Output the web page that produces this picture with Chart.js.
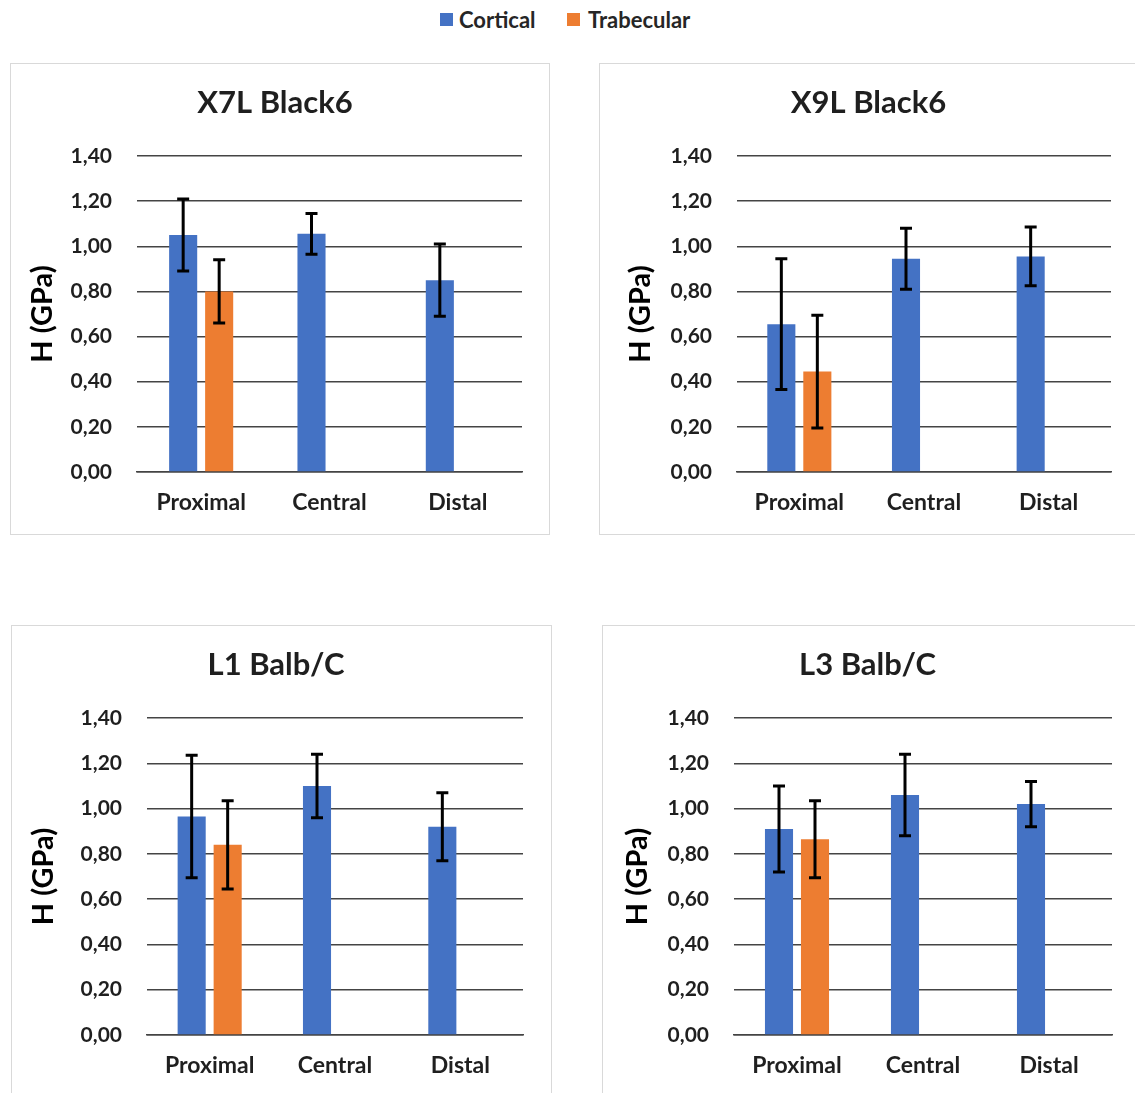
<!DOCTYPE html>
<html>
<head>
<meta charset="utf-8">
<script src="https://cdn.jsdelivr.net/npm/chart.js@4.4.1/dist/chart.umd.min.js"></script>
<style>
  html, body { margin: 0; padding: 0; background: #fff; overflow: hidden; }
  body { width: 1135px; height: 1093px; position: relative; font-family: Lato, sans-serif; }
  .frame { position: absolute; border: 1.5px solid #d9d9d9; box-sizing: border-box; }
  canvas { position: absolute; }
  .key { position: absolute; width: 13px; height: 13px; }
  .lab { position: absolute; font: 700 22px Lato, sans-serif; color: #262626; line-height: 24px; white-space: nowrap; }
</style>
</head>
<body>
<div class="key" style="left:440px;top:13px;background:#4472C4"></div>
<div class="lab" style="left:459px;top:8px">Cortical</div>
<div class="key" style="left:567px;top:13px;background:#ED7D31"></div>
<div class="lab" style="left:588px;top:8px">Trabecular</div>

<script>
// Hardness (GPa) by bone region, mean and standard deviation
const categories = ['Proximal', 'Central', 'Distal'];
const seriesNames = ['Cortical', 'Trabecular'];
const panelTitles = ['X7L Black6', 'X9L Black6', 'L1 Balb/C', 'L3 Balb/C'];
const yTicks = [0, 0.2, 0.4, 0.6, 0.8, 1.0, 1.2, 1.4];

const x7lCortical = [1.05, 1.055, 0.85];
const x7lCorticalSd = [0.16, 0.09, 0.16];
const x7lTrabecular = [0.80, null, null];
const x7lTrabecularSd = [0.14, null, null];

const x9lCortical = [0.655, 0.945, 0.955];
const x9lCorticalSd = [0.29, 0.135, 0.13];
const x9lTrabecular = [0.445, null, null];
const x9lTrabecularSd = [0.25, null, null];

const l1Cortical = [0.965, 1.10, 0.92];
const l1CorticalSd = [0.27, 0.14, 0.15];
const l1Trabecular = [0.84, null, null];
const l1TrabecularSd = [0.195, null, null];

const l3Cortical = [0.91, 1.06, 1.02];
const l3CorticalSd = [0.19, 0.18, 0.10];
const l3Trabecular = [0.865, null, null];
const l3TrabecularSd = [0.17, null, null];

const panelSeries = [
  [x7lCortical, x7lCorticalSd, x7lTrabecular, x7lTrabecularSd],
  [x9lCortical, x9lCorticalSd, x9lTrabecular, x9lTrabecularSd],
  [l1Cortical, l1CorticalSd, l1Trabecular, l1TrabecularSd],
  [l3Cortical, l3CorticalSd, l3Trabecular, l3TrabecularSd]
];

// Panel placement on the page and plot-area edges inside each canvas
const panels = [
  { x: 10,  y: 63,  w: 540, h: 472, left: 127, right: 512, top: 93, bottom: 409, axisTitleX: 32 },
  { x: 599, y: 63,  w: 540, h: 472, left: 138, right: 512, top: 93, bottom: 409, axisTitleX: 41 },
  { x: 11,  y: 625, w: 541, h: 472, left: 136, right: 512, top: 93, bottom: 410, axisTitleX: 32 },
  { x: 602, y: 625, w: 540, h: 472, left: 132, right: 510, top: 93, bottom: 410, axisTitleX: 35 }
];

const COLORS = ['#4472C4', '#ED7D31'];
const INK = '#1f1f1f';
const GRID = '#444444';

// Whiskers drawn from each dataset's "errors" array through the y scale
const errorBars = {
  id: 'errorBars',
  afterDatasetsDraw(chart) {
    const { ctx } = chart;
    const ys = chart.scales.y;
    chart.data.datasets.forEach((ds, di) => {
      if (!ds.errors) return;
      const meta = chart.getDatasetMeta(di);
      meta.data.forEach((bar, i) => {
        const v = ds.data[i], e = ds.errors[i];
        if (v == null || e == null) return;
        const yHi = ys.getPixelForValue(v + e);
        const yLo = ys.getPixelForValue(v - e);
        const cx = bar.x, half = 6;
        ctx.save();
        ctx.strokeStyle = '#000';
        ctx.lineWidth = 3;
        ctx.lineCap = 'butt';
        ctx.beginPath();
        ctx.moveTo(cx, yHi); ctx.lineTo(cx, yLo);
        ctx.moveTo(cx - half, yHi); ctx.lineTo(cx + half, yHi);
        ctx.moveTo(cx - half, yLo); ctx.lineTo(cx + half, yLo);
        ctx.stroke();
        ctx.restore();
      });
    });
  }
};

const fmt = v => v.toFixed(2).replace('.', ',');

panels.forEach((p, k) => {
  const frame = document.createElement('div');
  frame.className = 'frame';
  Object.assign(frame.style, { left: p.x + 'px', top: p.y + 'px', width: p.w + 'px', height: p.h + 'px' });
  document.body.appendChild(frame);

  const cv = document.createElement('canvas');
  cv.width = p.w; cv.height = p.h;
  Object.assign(cv.style, { left: p.x + 'px', top: p.y + 'px', width: p.w + 'px', height: p.h + 'px' });
  document.body.appendChild(cv);

  const [cort, cortSd, trab, trabSd] = panelSeries[k];
  const axisTitleLine = 30;
  const padLeft = p.axisTitleX - axisTitleLine / 2 + 1;
  const catWidth = (p.right - p.left) / categories.length;

  new Chart(cv, {
    type: 'bar',
    data: {
      labels: categories,
      datasets: [
        { label: seriesNames[0], data: cort, errors: cortSd, backgroundColor: COLORS[0] },
        { label: seriesNames[1], data: trab, errors: trabSd, backgroundColor: COLORS[1] }
      ]
    },
    options: {
      responsive: false,
      animation: false,
      devicePixelRatio: 1,
      categoryPercentage: 72 / catWidth,
      barPercentage: 0.78,
      layout: { padding: { left: padLeft, right: p.w - p.right, top: 0, bottom: 0 } },
      plugins: {
        legend: { display: false },
        tooltip: { enabled: false },
        title: {
          display: true,
          text: panelTitles[k],
          color: INK,
          font: { family: 'Lato', size: 31, weight: 'bold', lineHeight: '36px' },
          padding: { top: 22, bottom: p.top - 22 - 36 }
        }
      },
      scales: {
        x: {
          grid: { display: false, drawTicks: false },
          border: { display: true, color: GRID, width: 1.5 },
          ticks: { color: INK, font: { family: 'Lato', size: 23, weight: 'bold' }, padding: 17, maxRotation: 0 },
          afterFit: s => { s.height = p.h - p.bottom; }
        },
        y: {
          min: yTicks[0],
          max: yTicks[yTicks.length - 1],
          afterBuildTicks: s => { s.ticks = yTicks.map(v => ({ value: v })); },
          grid: { color: GRID, lineWidth: 1.5, drawTicks: false },
          border: { display: false },
          ticks: { color: INK, font: { family: 'Lato', size: 21, weight: 'bold' }, padding: 25, callback: v => fmt(v) },
          title: {
            display: true,
            text: 'H (GPa)',
            color: '#000',
            font: { family: 'Lato', size: 29, weight: 'bold', lineHeight: axisTitleLine + 'px' },
            padding: 0
          },
          afterFit: s => { s.width = p.left - padLeft; }
        }
      }
    },
    plugins: [errorBars]
  });
});
</script>
</body>
</html>
